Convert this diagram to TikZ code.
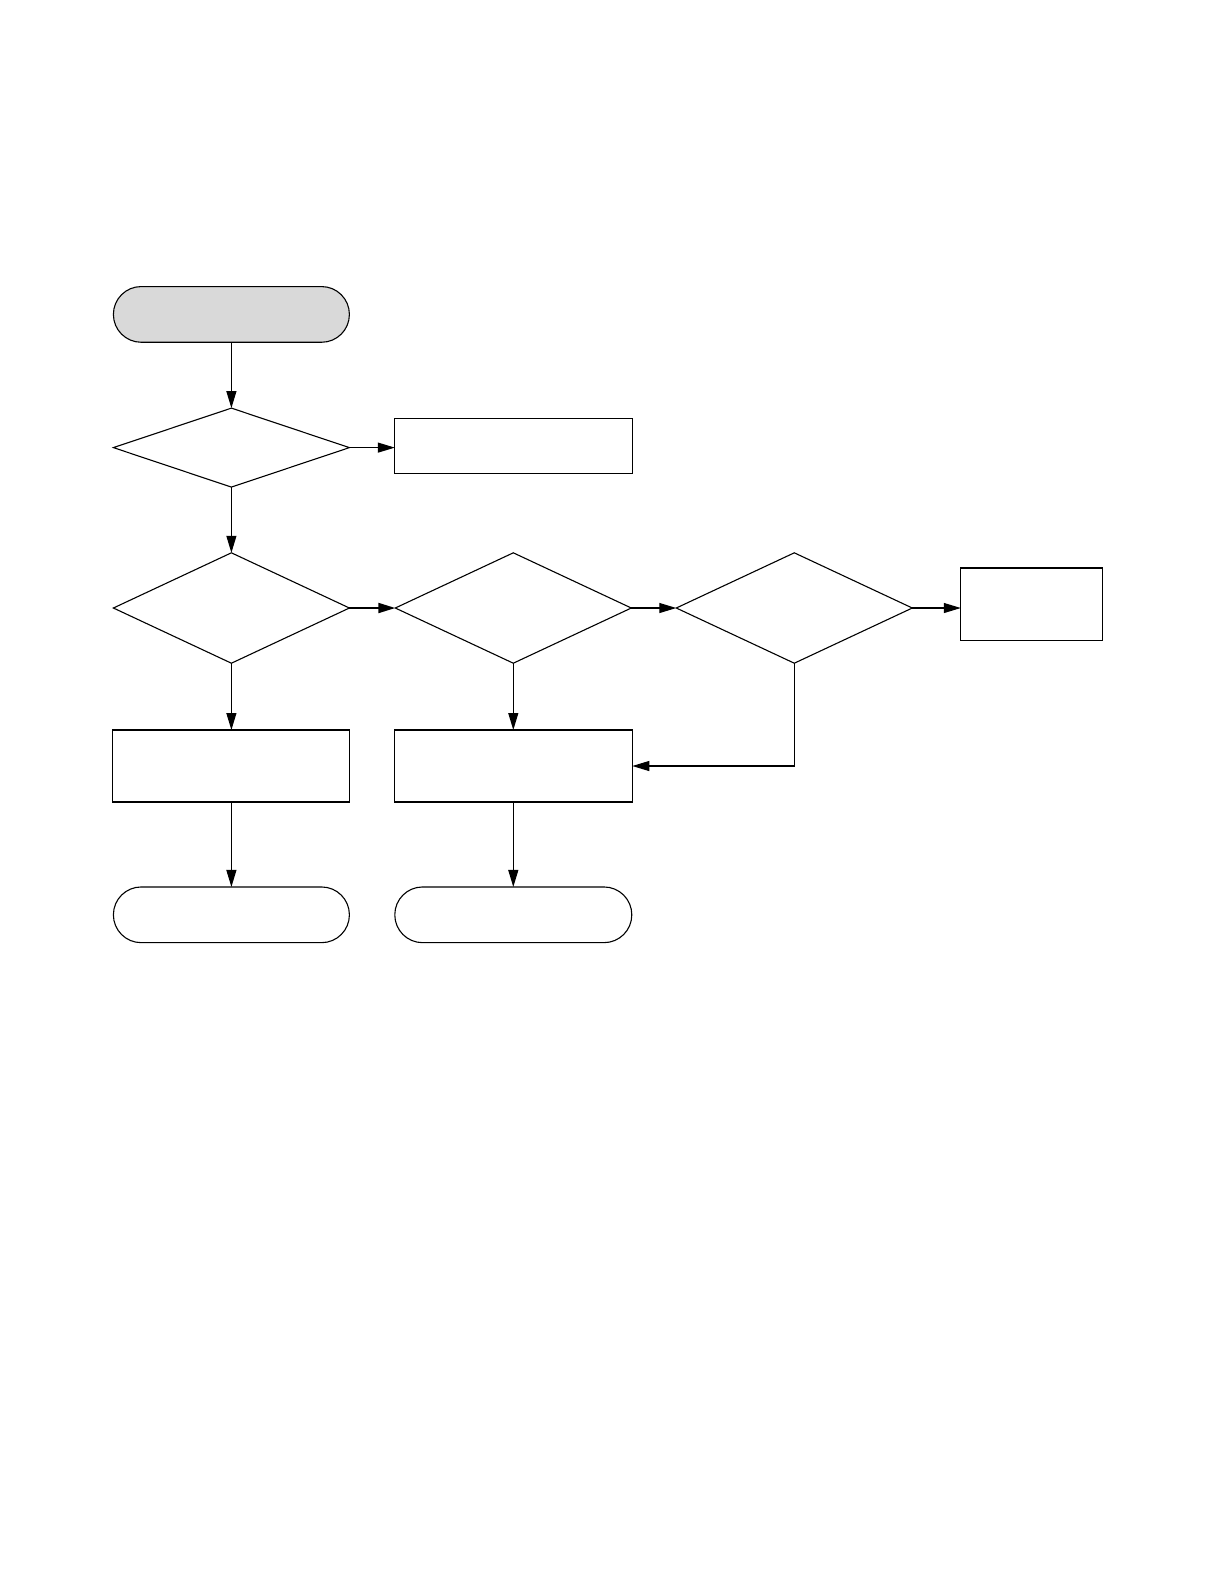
\documentclass[tikz,border=0pt]{standalone}
\usetikzlibrary{shapes.geometric,arrows.meta}
\begin{document}
\begin{tikzpicture}[x=0.5pt,y=-0.5pt,
  every node/.style={inner sep=0pt,outer sep=0pt,line width=0.55pt,draw=black},
  term/.style={rectangle,rounded corners=13.9pt,minimum width=118pt,minimum height=27.85pt},
  startterm/.style={term,fill=gray!30},
  dec/.style={diamond,aspect=1,minimum width=118pt},
  proc/.style={rectangle,minimum width=119pt},
  conn/.style={line width=0.55pt,-{Triangle[length=8.5pt,width=5pt]}}
]
\path[use as bounding box] (0,0) rectangle (1219,1587);
\node[startterm] (start) at (231.4,314.4) {};
\node[dec,minimum height=39.5pt] (d1) at (231.4,447.6) {};
\node[proc,minimum height=27.85pt] (b1) at (513.8,446) {};
\node[dec,minimum height=55.2pt] (d2) at (231.4,608) {};
\node[dec,minimum height=55.2pt] (d3) at (513.3,608) {};
\node[dec,minimum height=55.2pt] (d4) at (794.3,608) {};
\node[rectangle,minimum width=70.9pt,minimum height=36.45pt] (b4) at (1031.7,604.4) {};
\node[proc,minimum width=118.5pt,minimum height=36pt] (b2) at (231.4,766) {};
\node[proc,minimum height=36pt] (b3) at (513.3,766) {};
\node[term] (e1) at (231.4,914.8) {};
\node[term,minimum width=118.5pt] (e2) at (513.3,914.8) {};
\draw[conn] (start) -- (d1);
\draw[conn] (d1.east) -- (d1.east -| b1.west);
\draw[conn] (d1) -- (d2);
\draw[conn,line width=1pt] (d2.east) -- (d3.west);
\draw[conn] (d3.east) -- (d4.west);
\draw[conn] (d4.east) -- (d4.east -| b4.west);
\draw[conn] (d2) -- (b2);
\draw[conn] (d3) -- (b3);
\draw[conn] (d4.south) |- (b3.east);
\draw[conn] (b2) -- (e1);
\draw[conn] (b3) -- (e2);
\end{tikzpicture}
\end{document}
